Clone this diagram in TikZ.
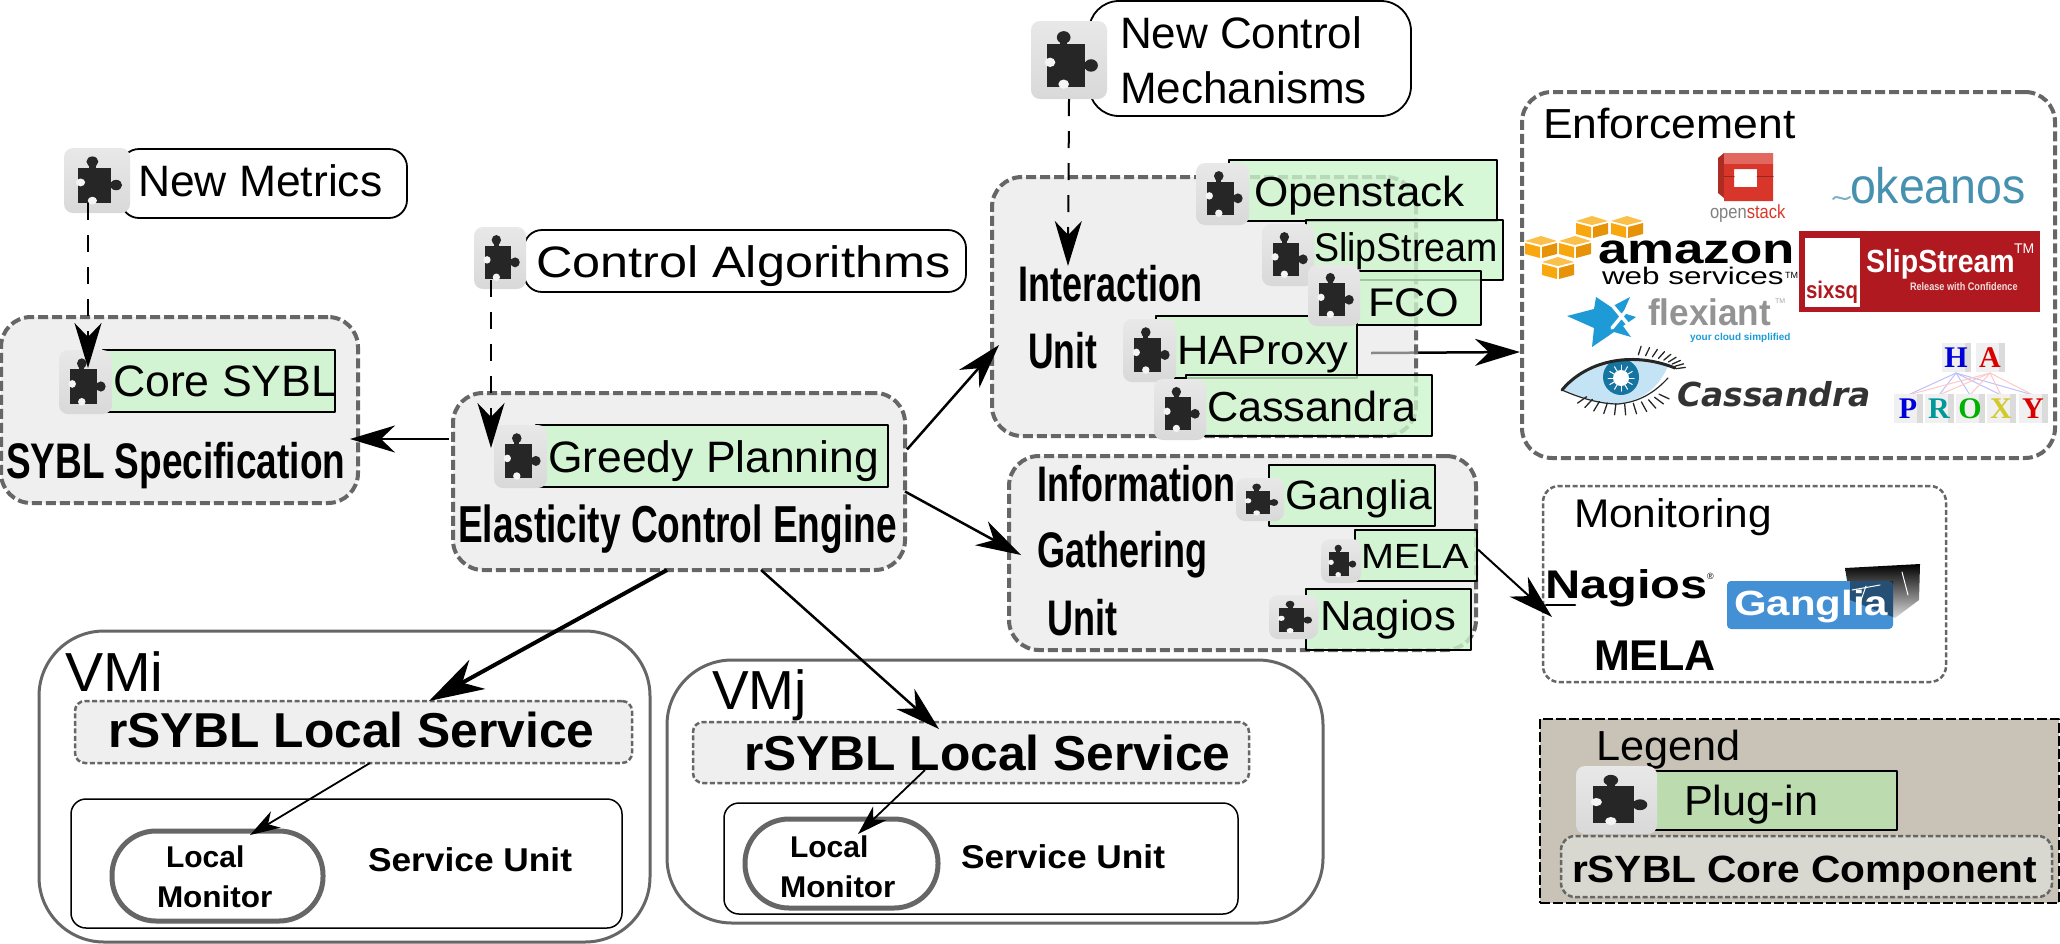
\documentclass[tikz,border=0pt]{standalone}
\usepackage{graphicx}
\usepackage{fontspec}
\setmainfont{Liberation Sans}
\newfontfamily\dejavufont{DejaVu Sans}
\newfontfamily\seriffont{Liberation Serif}
\usetikzlibrary{arrows.meta,calc}
\definecolor{coregray}{HTML}{666666}
\definecolor{unitfill}{HTML}{EFEFEF}
\definecolor{overfill}{HTML}{E4E4E4}
\definecolor{plugfill}{HTML}{CDF6CD}
\definecolor{legendfill}{HTML}{C8C3B6}
\definecolor{legendgreen}{HTML}{BCDCB0}
\definecolor{legendcore}{HTML}{D8D7D0}
\definecolor{awsorange}{HTML}{F9A70F}
\definecolor{awslight}{HTML}{FBC04A}
\definecolor{awsdark}{HTML}{E6930A}
\definecolor{stackred}{HTML}{D8362A}
\definecolor{okeanosblue}{HTML}{4690B0}
\definecolor{sixsqred}{HTML}{B0191F}
\definecolor{flexblue}{HTML}{1E9BD7}
\definecolor{gangliablue}{HTML}{4490D4}
\definecolor{eyeblue}{HTML}{C4E4F6}
\newcommand{\puzzlepiece}[3]{
  \begin{scope}[shift={(#1.north west)},x=#2pt,y=-#3pt]
    \fill [black!85] (0.21,0.30) rectangle (0.71,0.84);
    \fill [black!85] (0.43,0.21) ellipse (0.09 and 0.08);
    \fill [black!85] (0.38,0.25) rectangle (0.48,0.32);
    \fill [black!85] (0.79,0.57) ellipse (0.09 and 0.08);
    \fill [black!85] (0.69,0.52) rectangle (0.76,0.62);
    \fill [gray!8] (0.25,0.53) ellipse (0.07 and 0.06);
    \fill [gray!8] (0.43,0.81) ellipse (0.07 and 0.06);
  \end{scope}
}
\tikzset{
  sz/.style 2 args={minimum width=#1pt,minimum height=#2pt,inner sep=0pt,outer sep=0pt},
  corebox/.style={draw=coregray,line width=4pt,line cap=butt,dash pattern=on 10pt off 4pt,fill=unitfill,rounded corners=30pt},
  thinbox/.style={draw=coregray,line width=2.5pt,line cap=butt,dash pattern=on 5pt off 2.5pt,fill=unitfill,rounded corners=10pt},
  plugbox/.style={draw=black,line width=2pt,fill=plugfill,fill opacity=0.8},
  namebox/.style={draw=black,line width=1.8pt,fill=white,rounded corners=18pt},
  vmbox/.style={draw=coregray,line width=3pt,rounded corners=65pt},
  unitbox/.style={draw=black,line width=1.5pt,rounded corners=15pt},
  monbox/.style={draw=coregray,line width=5pt,rounded corners=44pt},
  plugicon/.style 2 args={sz={#1}{#2},rounded corners=9pt,top color=gray!18,middle color=gray!5,bottom color=gray!30},
  txt/.style={anchor=base west,inner sep=0pt,outer sep=0pt,font=\fontsize{#1pt}{#1pt}\selectfont},
  btxt/.style={anchor=base west,inner sep=0pt,outer sep=0pt,font=\fontsize{#1pt}{#1pt}\selectfont\bfseries},
  flow/.style={->,line width=2.5pt,line cap=butt},
  bigflow/.style={-{Stealth[length=55pt,width=33pt,inset=17pt]},line width=4pt,line cap=butt},
  smallflow/.style={-{Stealth[length=30pt,width=19pt,inset=9pt]},line width=1.8pt,line cap=butt},
  plugflow/.style={->,line width=2pt,line cap=butt,dash pattern=on 17pt off 15pt},
}
\begin{document}
\begin{tikzpicture}[line cap=round,line join=round,>={Stealth[length=45pt,width=27pt,inset=14pt]},x=1pt,y=-1pt]
  \useasboundingbox (0,0) rectangle (2060,943);
  \node [vmbox,sz={611}{311}] (vmi) at (344.5,786.5) {};
  \node [vmbox,sz={656}{263}] (vmj) at (995,791.5) {};
  \node [thinbox,sz={557}{62}] (locali) at (353.5,732) {};
  \node [thinbox,sz={556}{61}] (localj) at (971,752.5) {};
  \node [unitbox,sz={551}{129}] (uniti) at (346.5,863.5) {};
  \node [unitbox,sz={514}{111}] (unitj) at (981,858.5) {};
  \node [monbox,sz={211}{90}] (moni) at (217.5,876) {};
  \node [monbox,sz={193}{89}] (monj) at (841.5,863.5) {};
  \node [corebox,sz={357}{186}] (sybl) at (179.5,410) {};
  \node [corebox,sz={452}{177}] (engine) at (679,481.5) {};
  \node [corebox,fill=none,sz={533}{366}] (enforce) at (1788.5,275) {};
  \node [thinbox,fill=none,rounded corners=16pt,sz={403}{196}] (monitoring) at (1744.5,584) {};
  \coordinate (hatail) at (1371,353);
  \draw [flow] (hatail) -- ([xshift=-2pt,yshift=-77pt]enforce.west);
  \node [corebox,fill=overfill,fill opacity=0.6,sz={424}{259}] (interact) at (1204,306.5) {};
  \node [corebox,sz={467}{194}] (gather) at (1242.5,553) {};
  \node [namebox,sz={286}{69}] (metrics) at (264,183.5) {};
  \node [namebox,sz={442}{62}] (control) at (745,261) {};
  \node [namebox,rounded corners=30pt,sz={322}{115}] (newctl) at (1250,58.5) {};
  \node [plugbox,sz={232}{62}] (coresybl) at (219,381) {};
  \node [plugbox,sz={352}{62}] (greedy) at (712,456) {};
  \node [plugbox,sz={268}{61}] (openbox) at (1363,190.5) {};
  \node [plugbox,sz={197}{60}] (slipbox) at (1404.5,250) {};
  \node [plugbox,sz={124}{54}] (fcobox) at (1419,298) {};
  \node [plugbox,sz={201}{61.5}] (habox) at (1256.5,347) {};
  \node [plugbox,sz={246}{61}] (cassbox) at (1309,405.5) {};
  \node [plugbox,sz={166}{61}] (gangbox) at (1352,495.5) {};
  \node [plugbox,sz={122}{51}] (melabox) at (1416,555.5) {};
  \node [plugbox,sz={165}{61}] (nagbox) at (1388.5,619.5) {};
  \node [plugicon={66}{65}] (metricsicon) at (97,180.5) {};
  \node [plugicon={52}{62}] (controlicon) at (500,258) {};
  \node [plugicon={76}{78}] (newctlicon) at (1069,60) {};
  \node [plugicon={53}{64}] (coreicon) at (85.5,382) {};
  \node [plugicon={53}{63}] (greedyicon) at (520.5,456.5) {};
  \node [plugicon={53}{62}] (openicon) at (1222.5,194) {};
  \node [plugicon={52}{62}] (slipicon) at (1288,255) {};
  \node [plugicon={52}{61}] (fcoicon) at (1334,295.5) {};
  \node [plugicon={53}{63}] (haicon) at (1149.5,350.5) {};
  \node [plugicon={52}{61}] (cassicon) at (1180,409.5) {};
  \node [plugicon={48}{43}] (gangicon) at (1260,499.5) {};
  \node [plugicon={40}{44}] (melaicon) at (1341,561) {};
  \node [plugicon={49}{44}] (nagicon) at (1293.5,617) {};
  \foreach \iconname/\iw/\ih in {metricsicon/66/65,controlicon/52/62,newctlicon/76/78,coreicon/53/64,greedyicon/53/63,openicon/53/62,slipicon/52/62,fcoicon/52/61,haicon/53/63,cassicon/52/61,gangicon/48/43,melaicon/40/44,nagicon/49/44} {
    \puzzlepiece{\iconname}{\iw}{\ih}
  }
  \node [txt=44] (metricstext) at (138,196) {\scalebox{1.01}[1]{New Metrics}};
  \node [txt=44] (controltext) at (536,277) {\scalebox{1.145}[1]{Control Algorithms}};
  \node [txt=44] (newctltext) at (1120,48) {New Control};
  \node [txt=44] (mechtext) at (1120,103) {Mechanisms};
  \node [txt=44] (coretext) at (113,396) {\scalebox{1.015}[1]{Core SYBL}};
  \node [txt=44] (greedytext) at (548,472) {\scalebox{1.01}[1]{Greedy Planning}};
  \node [btxt=50] (sybltext) at (6,478) {\scalebox{0.74}[1]{SYBL Specification}};
  \node [btxt=52] (enginetext) at (458,542) {\scalebox{0.713}[1]{Elasticity Control Engine}};
  \node [btxt=50] (interacttext) at (1018,301) {\scalebox{0.72}[1]{Interaction}};
  \node [btxt=50] (unittext) at (1028,368) {\scalebox{0.71}[1]{Unit}};
  \node [txt=42] (opentext) at (1254,206) {\scalebox{1.05}[1]{Openstack}};
  \node [txt=40] (sliptext) at (1314,261) {\scalebox{0.94}[1]{SlipStream}};
  \node [txt=40] (fcotext) at (1368,316) {\scalebox{1.08}[1]{FCO}};
  \node [txt=41] (hatext) at (1177,364) {\scalebox{1.06}[1]{HAProxy}};
  \node [txt=42] (casstext) at (1207,421) {\scalebox{1.03}[1]{Cassandra}};
  \node [btxt=50] (infotext) at (1037,501) {\scalebox{0.72}[1]{Information}};
  \node [btxt=50] (gathertext) at (1037,567) {\scalebox{0.72}[1]{Gathering}};
  \node [btxt=50] (unittexttwo) at (1047,635) {\scalebox{0.72}[1]{Unit}};
  \node [txt=41] (gangtext) at (1285,509) {\scalebox{1.04}[1]{Ganglia}};
  \node [txt=35] (melatext) at (1361,568) {\scalebox{1.13}[1]{MELA}};
  \node [txt=42] (nagtext) at (1320,630) {\scalebox{1.04}[1]{Nagios}};
  \node [txt=55] (vmitext) at (65,691) {\scalebox{1.04}[1]{VMi}};
  \node [txt=55] (vmjtext) at (712,709) {VMj};
  \node [btxt=49] (localitext) at (108,747) {\scalebox{1.015}[1]{rSYBL Local Service}};
  \node [btxt=49] (localjtext) at (744,770) {\scalebox{1.015}[1]{rSYBL Local Service}};
  \node [btxt=30] (localitexta) at (166,867) {Local};
  \node [btxt=30] (localitextb) at (157,907) {\scalebox{1.05}[1]{Monitor}};
  \node [btxt=30] (localjtexta) at (790,857) {Local};
  \node [btxt=30] (localjtextb) at (780,897) {\scalebox{1.05}[1]{Monitor}};
  \node [btxt=33] (unititext) at (368,871) {\scalebox{1.07}[1]{Service Unit}};
  \node [btxt=33] (unitjtext) at (961,868) {\scalebox{1.07}[1]{Service Unit}};
  \draw [flow] ([xshift=-4pt,yshift=42.5pt]engine.west) -- ([xshift=-8pt,yshift=-29pt]sybl.east);
  \draw [flow] ([xshift=2pt,yshift=32pt]engine.east) -- ([xshift=7pt,yshift=-38.5pt]interact.west);
  \draw [flow] ([yshift=-10pt]engine.east) -- ([xshift=12pt,yshift=-2pt]gather.west);
  \draw [bigflow] ([xshift=-12pt]engine.south) -- ([xshift=75.5pt]locali.north);
  \draw [flow] ([xshift=82pt]engine.south) -- ([xshift=-32pt,yshift=-7pt]localj.north);
  \draw [smallflow] ([xshift=16.5pt]locali.south) -- ([xshift=32.5pt,yshift=-4pt]moni.north);
  \draw [smallflow] ([xshift=-46pt,yshift=13pt]localj.south) -- ([xshift=16.5pt,yshift=-15pt]monj.north);
  \draw [flow,line width=2pt] ([xshift=1pt,yshift=6pt]melabox.east) -- ([xshift=9pt,yshift=-33pt]monitoring.west);
  \draw [plugflow] ([xshift=-9pt,yshift=10pt]metricsicon.south) -- ([xshift=2.5pt,yshift=-18pt]coreicon.north);
  \draw [plugflow] ([xshift=-9pt,yshift=9pt]controlicon.south) -- ([xshift=-29.5pt,yshift=-23pt]greedyicon.north);
  \draw [plugflow] (newctlicon.south) -- ([xshift=-136pt,yshift=-89pt]interact.north);
  \node [txt=42] (enforcetext) at (1543,138) {\scalebox{1.06}[1]{Enforcement}};
  \fill [stackred!80!black] (1718,158) -- (1724,153) -- (1724,198) -- (1718,193) -- cycle;
  \fill [stackred,even odd rule] (1724,153) rectangle (1773,201) (1734,169) rectangle (1757,187);
  \fill [stackred!75!white] (1724,153) rectangle (1773,164);
  \draw [stackred!70!black,line width=1pt] (1724,176) -- (1734,176) (1757,176) -- (1773,176);
  \node [txt=19] (stacklogo) at (1710,218) {\scalebox{0.87}[1]{\color{gray}open\color{stackred}stack}};
  \node [txt=50,text=okeanosblue] (okeanoslogo) at (1850,203) {\scalebox{0.93}[1]{okeanos}};
  \draw [okeanosblue!70!white,line width=2pt] (1833,199) .. controls (1838,193) and (1842,203) .. (1850,197);
  \foreach \cx/\cy in {1592/227,1627/227,1541/247,1575/247,1558/268} {
    \fill [awslight] (\cx-16,\cy-6) -- (\cx,\cy-11) -- (\cx+16,\cy-6) -- (\cx,\cy-2) -- cycle;
    \fill [awsorange] (\cx-16,\cy-4) -- (\cx-1,\cy) -- (\cx-1,\cy+11) -- (\cx-16,\cy+7) -- cycle;
    \fill [awsdark] (\cx+16,\cy-4) -- (\cx+1,\cy) -- (\cx+1,\cy+11) -- (\cx+16,\cy+7) -- cycle;
  }
  \node [btxt=42] (amazonlogo) at (1598,263) {\scalebox{1.26}[1]{amazon}};
  \node [txt=24] (awslogo) at (1602,284) {\scalebox{1.31}[1]{web services}};
  \node [txt=9] (awstm) at (1785,278) {TM};
  \fill [sixsqred] (1799,231) rectangle (2040,312);
  \fill [white] (1805,238) rectangle (1860,307);
  \node [btxt=24,text=sixsqred] (sixsqlogo) at (1806,298) {\scalebox{0.85}[1]{sixsq}};
  \node [btxt=32,text=white] (slipstreamlogo) at (1866,272) {\scalebox{0.89}[1]{SlipStream}};
  \node [txt=14,text=white] (sliptm) at (2014,253) {TM};
  \node [btxt=11,text=white!85!sixsqred] (sliprelease) at (1910,290) {\scalebox{0.83}[1]{Release with Confidence}};
  \fill [flexblue] (1567,316) -- (1594,309) -- (1596,297) -- (1611,307) -- (1630,297) -- (1623,313) -- (1636,317) -- (1623,326) -- (1631,337) -- (1614,332) -- (1592,347) -- (1594,328) -- cycle;
  \draw [white,line width=3.5pt] (1612,305) -- (1631,328) (1631,305) -- (1612,328);
  \node [btxt=37,text=gray!85] (flexlogo) at (1648,325) {\scalebox{0.95}[1]{flexiant}};
  \node [txt=7,text=gray!70] (flextm) at (1775,303) {TM};
  \node [btxt=10,text=flexblue] (flexslogan) at (1690,340) {your cloud simplified};
  \fill [eyeblue] (1562,390) .. controls (1585,362) and (1630,352) .. (1668,366) .. controls (1660,385) and (1645,400) .. (1618,404) .. controls (1600,404) and (1580,398) .. (1562,390) -- cycle;
  \fill [flexblue!75!black] (1621,377) circle (18pt);
  \fill [white] (1621,378) circle (8pt);
  \foreach \a in {0,30,...,330} {\draw [white,line width=1pt] (1621,378) -- +(\a:13);}
  \draw [black!85,line width=3pt] (1562,390) .. controls (1585,362) and (1630,350) .. (1675,368);
  \draw [black!85,line width=1.2pt] (1562,390) .. controls (1580,398) and (1600,404) .. (1618,404) .. controls (1640,402) and (1655,392) .. (1668,378);
  \foreach \t in {8,16,...,72} {\draw [black!85,line width=1.3pt] ({1621+56*cos(\t)},{371-17*sin(\t)}) -- ++(-\t:9);}
  \foreach \t in {215,227,...,335} {\draw [black!85,line width=1.3pt] ({1621+42*cos(\t)},{387-17*sin(\t)}) -- ++(-\t:11);}
  \node [btxt=33,text=black!80,font=\fontsize{33pt}{33pt}\selectfont\dejavufont\bfseries\itshape] (casslogo) at (1677,406) {Cassandra};
  \foreach \topx/\col in {1956/blue!25,1990/red!22} {
    \foreach \botx in {1908,1939,1970,2001,2033} {
      \draw [\col,line width=1pt] (\topx,373) -- (\botx,395);
    }
  }
  \foreach \tx/\ty/\letter/\col in {1956/358/H/blue!85!black,1990/358/A/red!85!black,1908/409/P/blue!85!black,1939/409/R/teal!80!cyan,1970/409/O/green!70!black,2001/409/X/yellow!80!black,2033/409/Y/red!85!black} {
    \fill [gray!12] (\tx-14,\ty-15) rectangle (\tx+15,\ty+14);
    \fill [gray!28] (\tx+9,\ty-15) rectangle (\tx+15,\ty+14);
    \node [text=\col,inner sep=0pt,font=\fontsize{30pt}{30pt}\selectfont\seriffont\bfseries] (ha\letter) at (\tx,\ty) {\letter};
  }
  \node [txt=40] (monitoringtext) at (1574,527) {\scalebox{1.06}[1]{Monitoring}};
  \node [btxt=40] (nagioslogo) at (1545,598) {\scalebox{1.22}[1]{Nagios}};
  \draw [black,line width=2.5pt] (1546,605) -- (1575,605);
  \node [txt=9] (nagiosreg) at (1707,579) {\textregistered};
  \shade [top color=black,bottom color=gray!30] (1845,568) -- (1920,564) -- (1919,600) -- (1895,618) -- (1850,600) -- cycle;
  \fill [gangliablue,rounded corners=4pt] (1727,581) rectangle (1893,629);
  \fill [black,fill opacity=0.45] (1850,581) -- (1893,581) -- (1893,617) -- (1850,600) -- cycle;
  \draw [white,line width=1pt] (1852,590) -- (1880,585) (1866,586) -- (1860,603) (1902,572) -- (1908,595);
  \node [btxt=35,text=white] (ganglialogo) at (1734,615) {\scalebox{1.2}[1]{Ganglia}};
  \node [btxt=43] (melalogo) at (1594,670) {MELA};
  \node [draw=black,line width=1.5pt,line cap=butt,dash pattern=on 10pt off 3pt,fill=legendfill,sz={519}{184}] (legend) at (1799.5,811) {};
  \node [txt=42] (legendtext) at (1596,760) {\scalebox{1.03}[1]{Legend}};
  \node [draw=black,line width=2pt,fill=legendgreen,sz={243}{59}] (plugin) at (1775.5,800.5) {};
  \node [plugicon={81}{68}] (pluginicon) at (1616.5,800) {};
  \puzzlepiece{pluginicon}{81}{68}
  \node [txt=42] (plugintext) at (1684,815) {\scalebox{1.03}[1]{Plug-in}};
  \node [thinbox,fill=legendcore,rounded corners=14pt,sz={491}{61}] (corecomp) at (1806.5,866.5) {};
  \node [btxt=38] (corecomptext) at (1572,882) {\scalebox{1.07}[1]{rSYBL Core Component}};
\end{tikzpicture}
\end{document}
